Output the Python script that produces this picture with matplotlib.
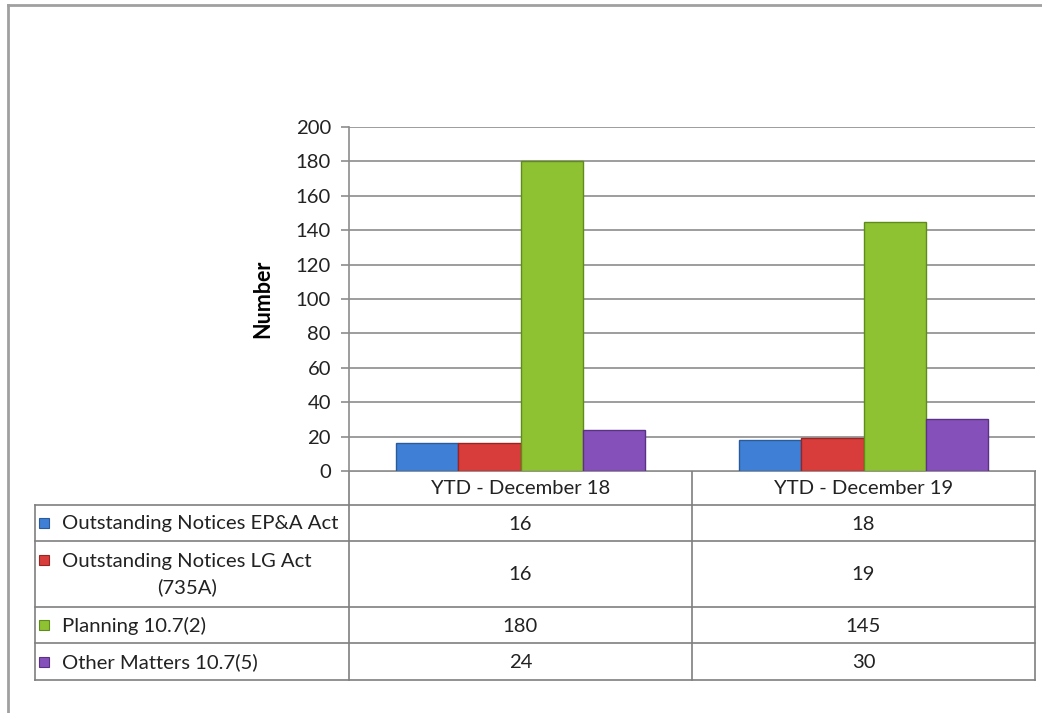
import matplotlib
matplotlib.use("Agg")
import matplotlib.pyplot as plt
from matplotlib.patches import Rectangle
import numpy as np

plt.rcParams['font.family'] = ['Lato', 'DejaVu Sans']

categories = ["YTD - December 18", "YTD - December 19"]
series = ["Outstanding Notices EP&A Act", "Outstanding Notices LG Act\n(735A)",
          "Planning 10.7(2)", "Other Matters 10.7(5)"]
values_dec18 = [16, 16, 180, 24]
values_dec19 = [18, 19, 145, 30]
colors = ["#3f80d6", "#d93d3b", "#8fc232", "#8650bb"]
edges = ["#2a5a9a", "#9a2422", "#5f8a1c", "#5a3285"]
yticks = [0, 20, 40, 60, 80, 100, 120, 140, 160, 180, 200]

FS = 14.6
W, H = 1042, 713
fig = plt.figure(figsize=(W / 100, H / 100), dpi=100)

# axes position in pixels
x0, x1 = 349, 1035
ytop, ybot = 127, 471
ax = fig.add_axes([x0 / W, 1 - ybot / H, (x1 - x0) / W, (ybot - ytop) / H])

vals = np.array([values_dec18, values_dec19])
n = len(series)
bw = 0.725 / n
xs = np.arange(len(categories))
for i in range(n):
    ax.bar(xs - 0.725 / 2 + bw * (i + 0.5), vals[:, i], width=bw, color=colors[i],
           edgecolor=edges[i], linewidth=1.0, zorder=3)

ax.set_xlim(-0.5, len(categories) - 0.5)
ax.set_ylim(0, 200)
ax.set_yticks(yticks)
ax.set_yticklabels([str(t) for t in yticks], fontsize=FS, color="#222222")
ax.set_xticks([])
ax.grid(axis='y', color="#8c8c8c", linewidth=1.2, zorder=0)
for s in ['top', 'right', 'bottom']:
    ax.spines[s].set_visible(False)
ax.spines['left'].set_color("#8c8c8c")
ax.spines['left'].set_linewidth(1.2)
ax.tick_params(axis='y', length=6, width=1.2, color="#8c8c8c", pad=7)
ax.set_ylabel("Number", fontsize=15.5, fontweight='bold', labelpad=16)

# overlay axes in pixel coordinates for the table and frame
ov = fig.add_axes([0, 0, 1, 1], zorder=-1)
ov.set_xlim(0, W)
ov.set_ylim(H, 0)
ov.axis('off')

lc = "#7f7f7f"
# outer frame
ov.plot([8, 8], [5, H + 5], color="#a0a0a0", lw=2)
ov.plot([8, W + 5], [5, 5], color="#a0a0a0", lw=2)

tab_left = 35
col_edges = [x0, (x0 + x1) / 2, x1]
row_edges = [471, 505, 541, 607, 643, 680]

# horizontal lines
ov.plot([x0, x1], [row_edges[0], row_edges[0]], color=lc, lw=1.2)
for y in row_edges[1:]:
    ov.plot([tab_left, x1], [y, y], color=lc, lw=1.2)
# vertical lines
ov.plot([tab_left, tab_left], [row_edges[1], row_edges[-1]], color=lc, lw=1.2)
for x in col_edges:
    ov.plot([x, x], [row_edges[0], row_edges[-1]], color=lc, lw=1.2)

# header
for j, c in enumerate(categories):
    cx = (col_edges[j] + col_edges[j + 1]) / 2
    ov.text(cx, (row_edges[0] + row_edges[1]) / 2 + 1, c, ha='center', va='center',
            fontsize=FS, color="#222222")

# rows
for i, name in enumerate(series):
    cy = (row_edges[i + 1] + row_edges[i + 2]) / 2
    if "\n" in name:
        sy = row_edges[i + 1] + 19
    else:
        sy = cy
    ov.add_patch(Rectangle((39, sy - 5), 10, 10, facecolor=colors[i], edgecolor=edges[i], lw=0.8))
    ov.text(62, cy + 1, name, ha='left', va='center', multialignment='center',
            fontsize=FS, color="#222222", linespacing=1.55)
    for j in range(len(categories)):
        cx = (col_edges[j] + col_edges[j + 1]) / 2
        ov.text(cx, cy + 1, str(vals[j, i]), ha='center', va='center',
                fontsize=FS, color="#222222")

fig.savefig("out.png", dpi=100, facecolor="white")
